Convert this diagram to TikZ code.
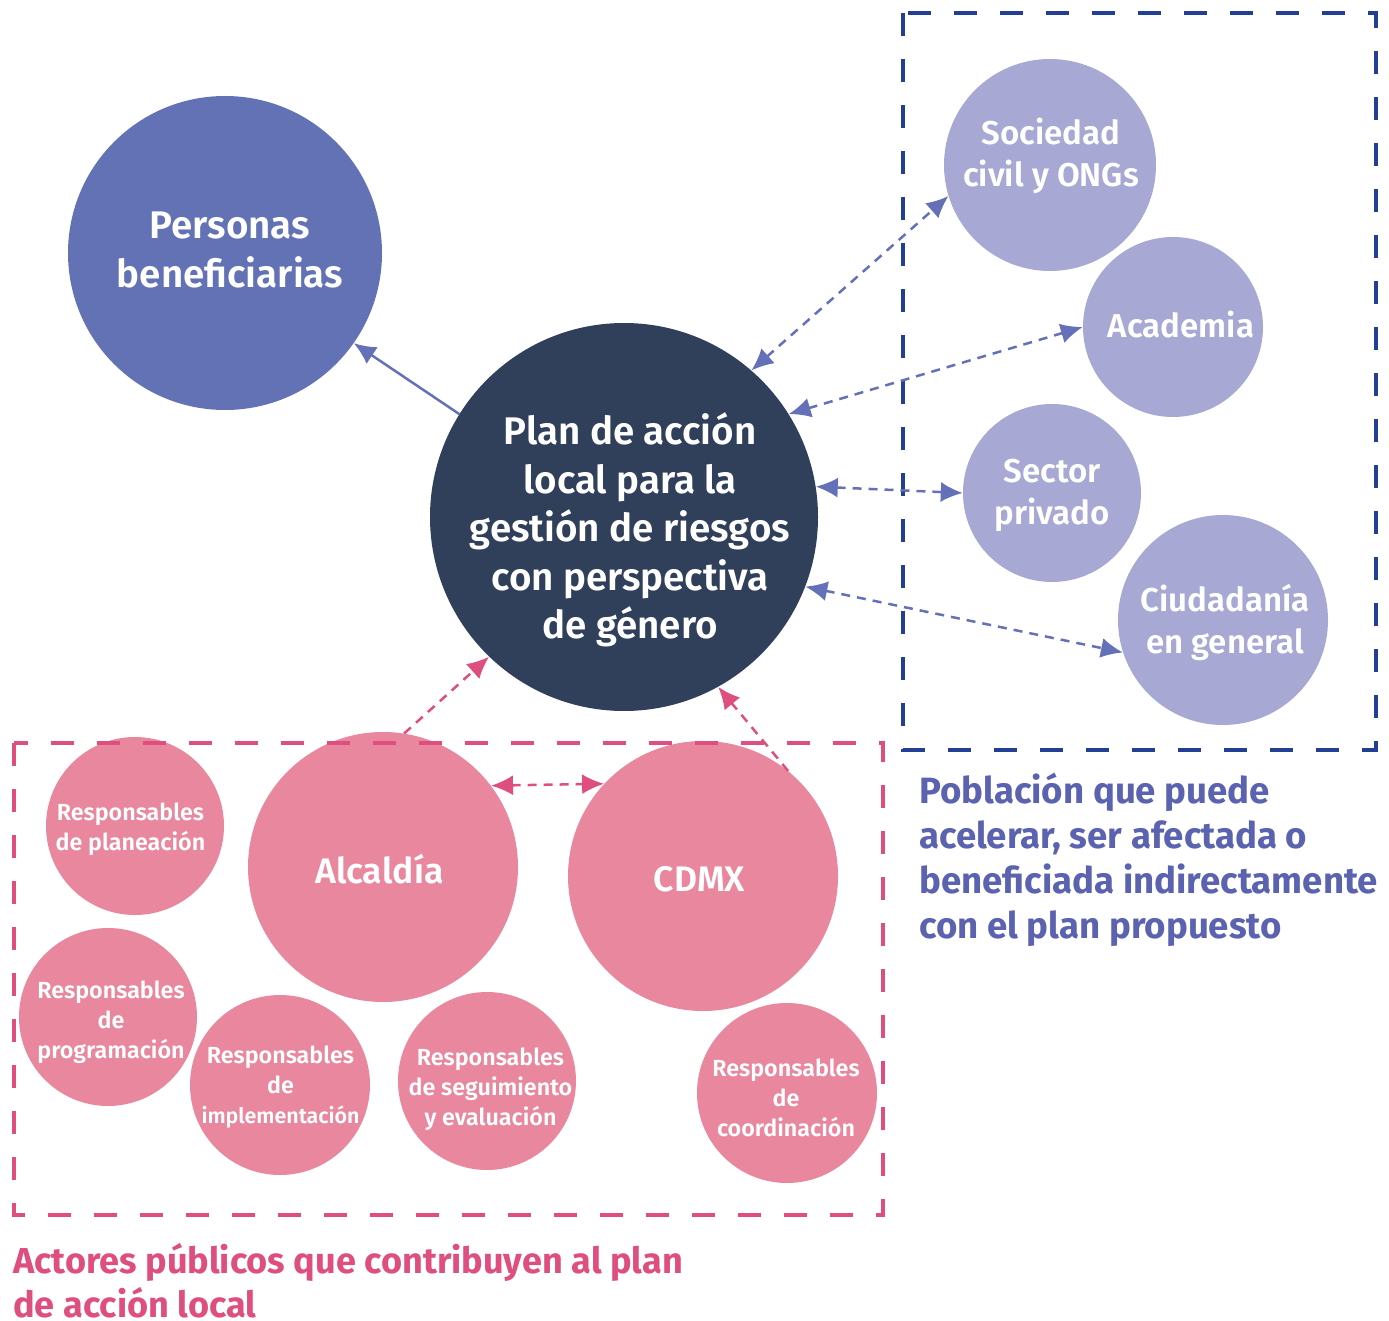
\documentclass[tikz,border=0pt]{standalone}
\usepackage{fontspec}
\setmainfont{Fira Sans}[BoldFont={* SemiBold}]
\newfontfamily\heavy{Fira Sans Bold}
\usetikzlibrary{arrows.meta}
\definecolor{cPer}{HTML}{6272B5}
\definecolor{cPlan}{HTML}{303F5A}
\definecolor{cLav}{HTML}{A7A8D3}
\definecolor{cPink}{HTML}{E8879D}
\definecolor{cPinkD}{HTML}{DE4F7F}
\definecolor{cBlueD}{HTML}{233F93}
\definecolor{cArr}{HTML}{6470B8}
\definecolor{cCapB}{HTML}{5B63B1}
\begin{document}
\begin{tikzpicture}[x=1pt,y=-1pt,
  circ/.style={circle,inner sep=0pt},
  txt/.style={inner sep=0pt,text=white,align=center},
  big/.style={txt,font=\fontsize{38.5}{48.5}\selectfont\bfseries},
  mid/.style={txt,font=\fontsize{33}{42}\selectfont\bfseries},
  pk/.style={txt,font=\fontsize{35.5}{42}\selectfont\bfseries},
  sm/.style={txt,font=\fontsize{23.3}{30}\selectfont\bfseries},
  smc/.style={circ,fill=cPink,minimum size=178pt},
  darr/.style={cArr,line width=2.5pt,dash pattern=on 9pt off 7pt,{Latex[length=22pt,width=20pt]}-{Latex[length=22pt,width=20pt]}},
  parr/.style={cPinkD,line width=2.5pt,dash pattern=on 9pt off 7pt},
  dbox/.style={line width=4.5pt,dash pattern=on 23pt off 23pt},
  captxt/.style={anchor=north west,align=left,inner sep=0pt}
]
\useasboundingbox (0,0) rectangle (1389,1321);

% blue group
\node[circ,fill=cLav,minimum size=212pt] (soc) at (1050,165) {};
\node[circ,fill=cLav,minimum size=180pt] (aca) at (1173,327) {};
\node[circ,fill=cLav,minimum size=178pt] (sec) at (1052,493) {};
\node[circ,fill=cLav,minimum size=210pt] (ciu) at (1223,620) {};
\node[mid] (socT) at ([xshift=1pt,yshift=9pt]soc.center) {Sociedad\\civil y ONGs};
\node[mid] (acaT) at ([xshift=8pt,yshift=2pt]aca.center) {Academia};
\node[mid] (secT) at ([yshift=-2pt]sec.center) {Sector\\privado};
\node[mid] (ciuT) at ([xshift=2pt,yshift=-2.5pt]ciu.center) {Ciudadanía\\en general};
\draw[dbox,cBlueD] (903,13) rectangle (1376,750);

% main
\node[circ,fill=cPer,minimum size=314pt] (per) at (225,253) {};
\node[circ,fill=cPlan,minimum size=388pt] (plan) at (624,517) {};
\node[big] (perT) at ([xshift=5pt,yshift=3pt]per.center) {Personas\\beneficiarias};
\node[big] (planT) at ([xshift=6pt,yshift=-13pt]plan.center) {Plan de acción\\local para la\\gestión de riesgos\\con perspectiva\\de género};

% pink group
\node[smc] (pla) at (135,826) {};
\node[circ,fill=cPink,minimum size=270pt] (alc) at (383,867) {};
\node[circ,fill=cPink,minimum size=270pt] (cdmx) at (703,876) {};
\node[smc] (pro) at (108,1017) {};
\node[smc,minimum size=180pt] (imp) at (280,1085) {};
\node[smc] (seg) at (487,1081) {};
\node[smc,minimum size=180pt] (coo) at (787,1093) {};
\node[sm] (plaT) at ([xshift=-4.5pt,yshift=-3pt]pla.center) {Responsables\\de planeación};
\node[pk] (alcT) at ([xshift=-3.5pt,yshift=-2pt]alc.center) {Alcaldía};
\node[pk] (cdmxT) at ([xshift=-3.5pt,yshift=-3pt]cdmx.center) {CDMX};
\node[sm] (proT) at ([xshift=3pt,yshift=-5pt]pro.center) {Responsables\\de\\programación};
\node[sm] (impT) at ([xshift=0.5pt,yshift=-2.5pt]imp.center) {Responsables\\de\\\resizebox{158pt}{!}{implementación}};
\node[sm] (segT) at ([xshift=3.5pt,yshift=-8pt]seg.center) {Responsables\\de seguimiento\\y evaluación};
\node[sm] (cooT) at ([xshift=-1pt,yshift=-4.5pt]coo.center) {Responsables\\de\\coordinación};
\draw[dbox,cPinkD] (14,743) rectangle (883,1215);

% connectors
\draw[cArr,line width=2.5pt,-{Latex[length=22pt,width=20pt]}] (plan.148) -- (per.-35);
\draw[darr] (plan.49) -- (soc.197);
\draw[darr] (plan.32) -- (aca.180);
\draw[darr] (plan.9) -- (sec.180);
\draw[darr] (plan.-21.5) -- (ciu.198);
\draw[parr,-{Latex[length=22pt,width=20pt]}] (alc.81) -- (plan.226);
\draw[parr,-{Latex[length=22pt,width=20pt]}] (cdmx.51) -- (plan.-61.5);
\draw[parr,{Latex[length=22pt,width=20pt]}-{Latex[length=22pt,width=20pt]}] (alc.37) -- (cdmx.137);

% captions
\node[captxt,text=cCapB,font=\fontsize{36.6}{45}\selectfont\heavy] (capb) at (919,773) {Población que puede\\acelerar, ser afectada o\\beneficiada indirectamente\\con el plan propuesto};
\node[captxt,text=cPinkD,font=\fontsize{36.1}{44}\selectfont\heavy] (capp) at (13,1243) {Actores públicos que contribuyen al plan\\de acción local};
\end{tikzpicture}
\end{document}
